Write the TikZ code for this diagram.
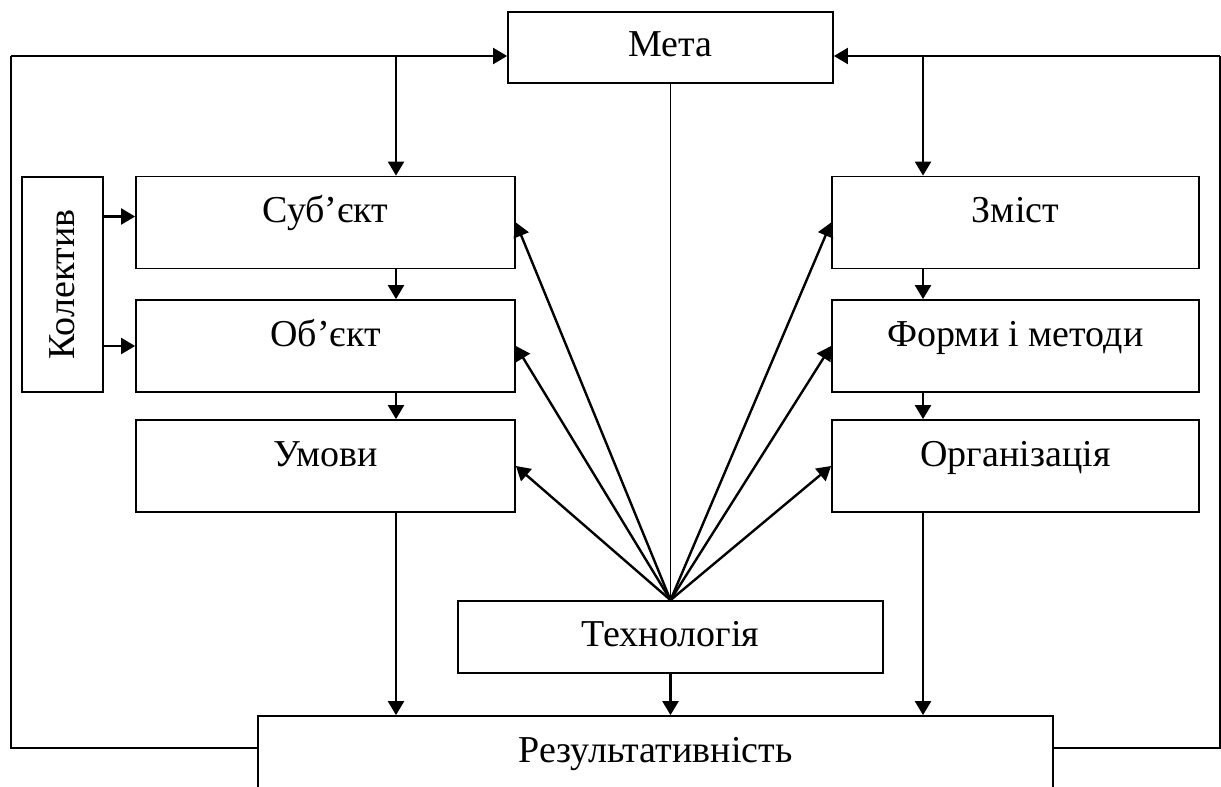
\documentclass[tikz,border=0pt]{standalone}
\usepackage{fontspec}
\setmainfont{Liberation Serif}
\usetikzlibrary{arrows.meta}

\begin{document}
\begin{tikzpicture}[->,>={Triangle[length=7pt,width=8pt]},line width=1.2pt,x=0.5pt,y=-0.5pt,
  box/.style={draw,line width=0.9pt,inner sep=0pt,font=\fontsize{19pt}{23pt}\selectfont},
  midbox/.style={box,text height=13pt,text depth=4pt},
  sidebox/.style={box,minimum height=46pt,text height=8pt,text depth=8pt},
  frame/.style={-,line width=0.8pt}]
  \useasboundingbox (0,0) rectangle (1221,787);
  \node[midbox,minimum width=162.5pt,minimum height=35.5pt] (meta) at (670.5,47.5) {Мета};
  \node[sidebox,minimum width=189.5pt] (subj) at (325.5,222.5) {Суб’єкт};
  \node[sidebox,minimum width=189.5pt] (obj) at (325.5,346) {Об’єкт};
  \node[sidebox,minimum width=189.5pt] (umovy) at (325.5,466) {Умови};
  \node[box,minimum width=40.5pt,minimum height=107.5pt] (kol) at (62.5,284.5) {\rotatebox{90}{Колектив}};
  \node[sidebox,minimum width=183.5pt] (zmist) at (1015.5,222.5) {Зміст};
  \node[sidebox,minimum width=183.5pt] (formy) at (1015.5,346) {Форми і методи};
  \node[sidebox,minimum width=183.5pt] (org) at (1015.5,466) {Організація};
  \node[midbox,minimum width=212.5pt,minimum height=36pt] (tech) at (670.5,637) {Технологія};
  \node[midbox,minimum width=397.5pt,minimum height=37pt] (rez) at (655.5,753) {Результативність};
  \coordinate (ltop) at (11,56);
  \coordinate (lbot) at (11,748);
  \coordinate (rtop) at (1220,56);
  \coordinate (rbot) at (1220,748);
  \coordinate (lx) at (396,0);
  \coordinate (rx) at (923,0);
  \draw[frame] (rez.west |- lbot) -- (lbot) -- (ltop);
  \draw (ltop) -- (meta.west |- ltop);
  \draw[frame] (rez.east |- rbot) -- (rbot) -- (rtop);
  \draw (rtop) -- (meta.east |- rtop);
  \draw (lx |- ltop) -- (lx |- subj.north);
  \draw (lx |- subj.south) -- (lx |- obj.north);
  \draw (lx |- obj.south) -- (lx |- umovy.north);
  \draw (lx |- umovy.south) -- (lx |- rez.north);
  \draw (rx |- rtop) -- (rx |- zmist.north);
  \draw (rx |- zmist.south) -- (rx |- formy.north);
  \draw (rx |- formy.south) -- (rx |- org.north);
  \draw (rx |- org.south) -- (rx |- rez.north);
  \draw ([yshift=3pt]kol.east |- subj.west) -- ([yshift=3pt]subj.west);
  \draw (kol.east |- obj.west) -- (obj.west);
  \draw[-,line width=0.9pt] (meta.south) -- (tech.north);
  \draw (tech.north) -- (subj.east);
  \draw (tech.north) -- (obj.east);
  \draw (tech.north) -- (umovy.east);
  \draw (tech.north) -- (zmist.west);
  \draw (tech.north) -- (formy.west);
  \draw (tech.north) -- (org.west);
  \draw (tech.south) -- (tech.south |- rez.north);
\end{tikzpicture}
\end{document}
